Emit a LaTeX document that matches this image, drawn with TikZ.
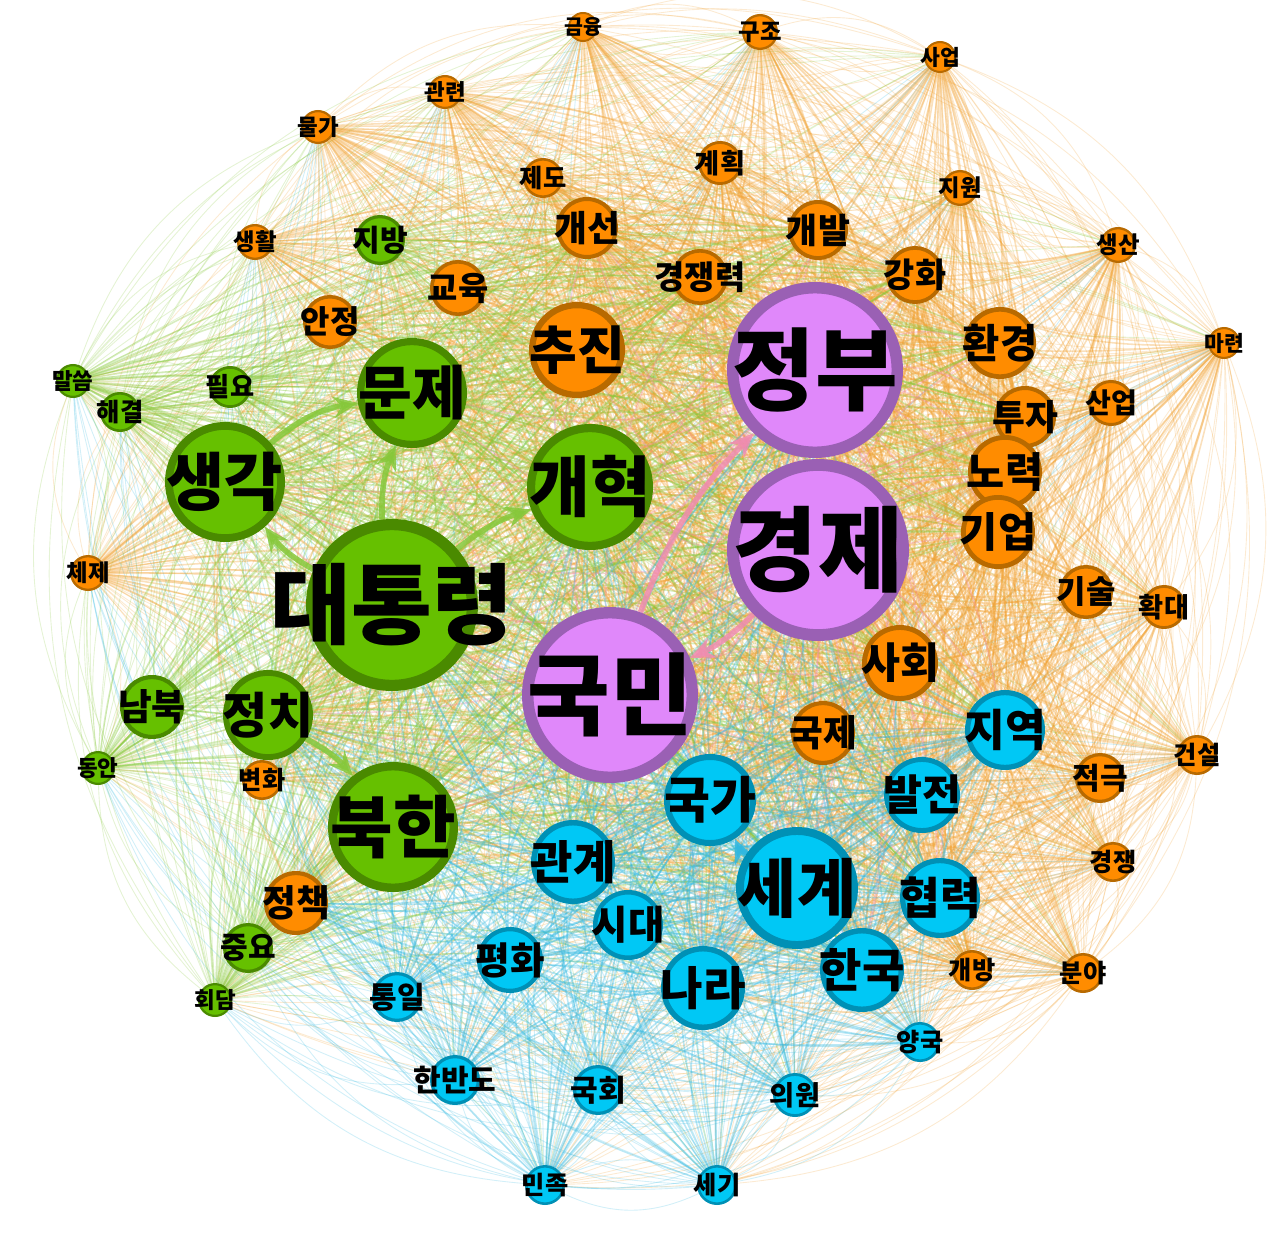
\documentclass[tikz,border=0pt]{standalone}
\usepackage{fontspec}
\newfontfamily\kr{Noto Sans CJK KR}
\usetikzlibrary{arrows.meta, backgrounds}
\definecolor{orgfill}{HTML}{FF8C00}
\definecolor{orgline}{HTML}{B86A00}
\definecolor{grnfill}{HTML}{66C000}
\definecolor{grnline}{HTML}{4A8A00}
\definecolor{purfill}{HTML}{E088FA}
\definecolor{purline}{HTML}{9A60B4}
\definecolor{cynfill}{HTML}{00C8F5}
\definecolor{cynline}{HTML}{0090B5}
\definecolor{orgedge}{HTML}{F0A030}
\definecolor{grnedge}{HTML}{86C83A}
\definecolor{puredge}{HTML}{F08CB0}
\definecolor{cynedge}{HTML}{30B8E0}

\tikzset{
  kw/.style={circle, inner sep=0pt, text=black},
  org/.style={kw, fill=orgfill, draw=orgline},
  grn/.style={kw, fill=grnfill, draw=grnline},
  pur/.style={kw, fill=purfill, draw=purline},
  cyn/.style={kw, fill=cynfill, draw=cynline},
  link/.style={line width=0.45pt, opacity=0.32},
  rim/.style={line width=0.25pt, opacity=0.22},
  hilite/.style={line width=1.6pt, opacity=0.85, -{Stealth[length=7pt, width=6pt]}},
}

% one keyword circle: style, name, x, y, radius, label
\newcommand\kwnode[6]{%
  \pgfmathsetmacro\d{0.187*#5}%
  \pgfmathsetmacro\w{0.013*#5}%
  \pgfmathsetmacro\fs{0.27*#5+1.8}%
  \node[#1, minimum size=\d mm, line width=\w mm,
    label={[font=\kr\bfseries\fontsize{\fs}{\fs}\selectfont, inner sep=0pt]center:#6}]
    (#2) at (#3,#4) {};}

% keyword nodes: name/x/y/radius/label (pixels of the layout)
\def\orgnodes{geumyung/583/27/15/금융, gujo/760/32/18/구조, saeop/940/57/16/사업,
  gwallyeon/445/92/17/관련, mulga/318/127/17/물가, gyehoek/720/163/22/계획,
  jedo/543/178/20/제도, jiwon/960/188/18/지원, saenghwal/255/242/18/생활,
  saengsan/1118/245/18/생산, maryeon/1224/343/16/마련, gaeseon/587/228/31/개선,
  gaebal/818/230/30/개발, gyeongjaengryeok/700/277/28/경쟁력, ganghwa/915/275/29/강화,
  gyoyuk/458/288/28/교육, anjeong/330/322/27/안정, chujin/577/350/48/추진,
  hwangyeong/1000/343/36/환경, tuja/1025/417/31/투자, saneop/1111/403/23/산업,
  noryeok/1005/472/37/노력, gieop/998/532/37/기업, gisul/1086/592/27/기술,
  hwakdae/1164/607/22/확대, cheje/88/573/18/체제, sahoe/900/663/38/사회,
  gukje/823/733/32/국제, byeonhwa/262/780/20/변화, jeokguk/1100/778/25/적극,
  geonseol/1197/755/20/건설, gyeongjaeng/1113/862/20/경쟁, jeongchaek/296/903/32/정책,
  gaebang/972/970/20/개방, bunya/1083/973/20/분야}
\def\grnnodes{jibang/380/240/25/지방, malsseum/73/381/17/말씀, pilyo/230/387/21/필요,
  haegyeol/120/412/20/해결, munje/412/393/55/문제, saenggak/225/482/60/생각,
  gaehyeok/590/487/63/개혁, daetongryeong/392/605/86/대통령, nambuk/152/707/32/남북,
  jeongchi/268/715/45/정치, dongan/98/768/17/동안, bukhan/393/827/65/북한,
  jungyo/248/948/25/중요, hoedam/215/1000/17/회담}
\def\purnodes{jeongbu/815/370/88/정부, gyeongje/818/550/91/경제, gukmin/610/695/88/국민}
\def\cynnodes{jiyeok/1005/730/40/지역, baljeon/922/795/38/발전, gukga/710/800/46/국가,
  gwangye/573/862/42/관계, segye/797/888/61/세계, hyeomnyeok/940/898/40/협력,
  sidae/628/925/35/시대, pyeonghwa/510/960/33/평화, hanguk/862/970/42/한국,
  nara/703/988/42/나라, tongil/397/997/25/통일, yangguk/920/1042/20/양국,
  hanbando/455/1080/25/한반도, gukhoe/598/1090/25/국회, uiwon/795/1095/22/의원,
  minjok/545/1185/20/민족, segi/717/1185/20/세기}

% most connected words
\def\hubs{daetongryeong, jeongbu, gyeongje, gukmin, bukhan, segye, munje, saenggak,
  gaehyeok, jeongchi, chujin, gukga, gwangye, hanguk, nara, hyeomnyeok, jiyeok,
  baljeon, sahoe, noryeok, gieop, hwangyeong, gaeseon, gaebal, ganghwa,
  gyeongjaengryeok, tuja}
% hubs of the lower half
\def\lowhubs{daetongryeong, jeongbu, gyeongje, gukmin, bukhan, segye, gaehyeok,
  jeongchi, gukga, gwangye, hanguk, nara, hyeomnyeok, jiyeok, baljeon, sahoe,
  sidae, pyeonghwa, gukje, jeongchaek}
% words on the outer ring
\def\rimnodes{geumyung/orgedge, gujo/orgedge, saeop/orgedge, gwallyeon/orgedge,
  mulga/orgedge, jiwon/orgedge, saenghwal/orgedge, saengsan/orgedge, maryeon/orgedge,
  saneop/orgedge, hwakdae/orgedge, cheje/orgedge, geonseol/orgedge, gyeongjaeng/orgedge,
  bunya/orgedge, gaebang/orgedge, jeokguk/orgedge, gyehoek/orgedge, jedo/orgedge,
  malsseum/grnedge, haegyeol/grnedge, pilyo/grnedge, dongan/grnedge, hoedam/grnedge,
  jungyo/grnedge, jibang/grnedge, tongil/cynedge, hanbando/cynedge, gukhoe/cynedge,
  uiwon/cynedge, minjok/cynedge, segi/cynedge, yangguk/cynedge}

\begin{document}
\begin{tikzpicture}[x=0.1mm, y=-0.1mm]
  \useasboundingbox (0,0) rectangle (1277,1240);

  % Keyword nodes, one loop per cluster
  \foreach \n/\x/\y/\r/\t in \orgnodes {\kwnode{org}{\n}{\x}{\y}{\r}{\t}}
  \foreach \n/\x/\y/\r/\t in \grnnodes {\kwnode{grn}{\n}{\x}{\y}{\r}{\t}}
  \foreach \n/\x/\y/\r/\t in \purnodes {\kwnode{pur}{\n}{\x}{\y}{\r}{\t}}
  \foreach \n/\x/\y/\r/\t in \cynnodes {\kwnode{cyn}{\n}{\x}{\y}{\r}{\t}}

  \begin{scope}[on background layer]
    % Outer ring links
    \foreach \a/\c in \rimnodes {
      \foreach \b/\e in \rimnodes {
        \ifx\a\b\else \draw[rim, \c] (\a) to[bend left=25] (\b); \fi
      }
    }

    % Links into the hubs
    \foreach \a/\x/\y/\r/\t in \orgnodes {
      \foreach \b in \hubs {\ifx\a\b\else \draw[link, orgedge] (\a) to[bend left=15] (\b); \fi}
    }
    \foreach \a/\x/\y/\r/\t in \grnnodes {
      \foreach \b in \hubs {\ifx\a\b\else \draw[link, grnedge] (\a) to[bend left=15] (\b); \fi}
    }
    \foreach \a/\x/\y/\r/\t in \purnodes {
      \foreach \b in \hubs {\ifx\a\b\else \draw[link, puredge] (\a) to[bend left=15] (\b); \fi}
    }
    \foreach \a/\x/\y/\r/\t in \cynnodes {
      \foreach \b in \lowhubs {\ifx\a\b\else \draw[link, cynedge] (\a) to[bend left=15] (\b); \fi}
    }

    % Strongest links
    \draw[hilite, grnedge] (daetongryeong) to[bend left=12] (munje);
    \draw[hilite, grnedge] (saenggak) to[bend left=15] (munje);
    \draw[hilite, grnedge] (daetongryeong) to[bend left=12] (saenggak);
    \draw[hilite, grnedge] (daetongryeong) to[bend left=10] (gaehyeok);
    \draw[hilite, grnedge] (jeongchi) to[bend left=10] (bukhan);
    \draw[hilite, puredge] (gukmin) to[bend left=12] (jeongbu);
    \draw[hilite, puredge] (gyeongje) to[bend left=10] (gukmin);
    \draw[hilite, cynedge] (segye) to[bend left=12] (gukga);
  \end{scope}
\end{tikzpicture}
\end{document}
